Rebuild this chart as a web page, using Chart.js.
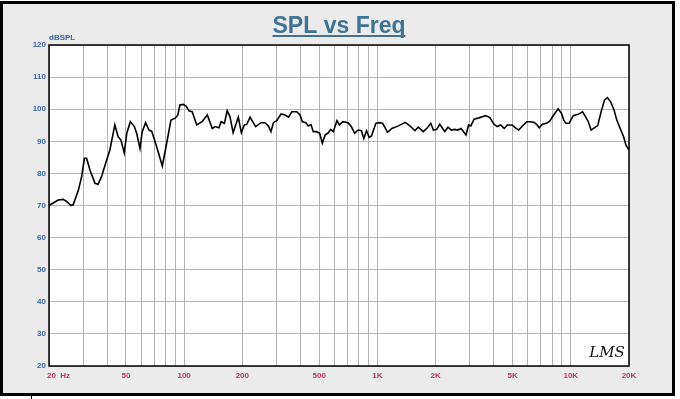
<!DOCTYPE html>
<html>
<head>
<meta charset="utf-8">
<script src="https://cdn.jsdelivr.net/npm/chart.js@4"></script>
<style>
  html, body { margin: 0; padding: 0; background: #fff; }
  #wrap { width: 680px; height: 399px; }
</style>
</head>
<body>
<div id="wrap"><canvas id="spl-chart" width="680" height="399"></canvas></div>
<script>
const freqs = [20, 22.3, 23.7, 24.7, 26, 26.7, 28.4, 29.5, 30.5, 31.3, 32.6, 34.6, 35.9, 37.5, 39, 41.3, 43.8, 45.6, 47.1, 49,
  50.5, 52.7, 55.3, 56.8, 59.1, 60.7, 63.2, 65.8, 68, 72.1, 77.1, 81.2, 85.5, 89.9, 92.8, 95.1, 98.9, 102.6, 105.9, 110,
  116.2, 123.8, 131.8, 139.8, 144.6, 151.4, 155.4, 161.6, 167, 172.6, 179.2, 190.6, 197.7, 204.7, 210.5, 219.4, 234.3, 249.7, 261.9, 272.6,
  281.3, 289.6, 301, 317.3, 333, 346.9, 360.5, 382.6, 397.6, 409, 425.9, 438.8, 452.9, 465.6, 483.4, 502.5, 518.5, 536.6, 553.7, 573.2,
  591, 617, 636, 662, 703, 732, 762, 793, 826, 850, 878, 906, 932, 981, 1021, 1063, 1128, 1186, 1285, 1392,
  1472, 1563, 1626, 1727, 1813, 1887, 1947, 2021, 2101, 2229, 2317, 2409, 2504, 2603, 2707, 2790, 2870, 2960, 3040, 3160,
  3346, 3630, 3815, 4005, 4160, 4325, 4525, 4700, 4975, 5170, 5380, 5650, 5920, 6150, 6440, 6650, 6860, 7130, 7480, 7780,
  8160, 8600, 8950, 9200, 9430, 9800, 10290, 10920, 11500, 11830, 12320, 12730, 13220, 13780, 14350, 14950, 15450, 16080, 16750, 17290,
  18010, 18760, 19290, 20000];

const spl = [70, 71.7, 71.9, 71.2, 70, 70.3, 74.8, 79, 84.7, 84.7, 81, 76.9, 76.6, 79.2, 82.6, 87.3, 95.1, 91.4, 90.4, 86.4,
  92.5, 96.1, 94.6, 92.5, 87.8, 93, 95.8, 93.5, 93.1, 88.3, 82.3, 89.4, 96.6, 97.2, 98.2, 101.3, 101.5, 100.9, 99.5, 99.2,
  95.1, 96.1, 98.2, 94, 94.6, 94.2, 96.1, 95.6, 99.5, 97.7, 92.7, 97.5, 92.7, 95.1, 95.2, 97.5, 94.6, 95.8, 95.8, 94.8,
  93, 95.8, 96.4, 98.5, 98.2, 97.5, 99.2, 99.2, 98.2, 96.1, 95.8, 94.8, 95.2, 93, 93, 92.5, 89.4, 92, 92.5, 93.7,
  93, 96.4, 95.1, 96.1, 95.8, 94.6, 92.5, 93.5, 93.3, 90.9, 93.3, 91.2, 91.7, 95.6, 95.8, 95.6, 92.8, 94, 94.8, 95.9,
  94.8, 93.3, 94.4, 93, 94.2, 95.6, 93.5, 93.7, 95.3, 93, 94.4, 93.5, 93.7, 93.5, 94, 93, 92, 95.1, 94.8, 96.9,
  97.3, 98, 97.4, 95.3, 94.6, 95.1, 94, 95.1, 95.1, 94.2, 93.5, 94.9, 96.1, 96.1, 95.9, 95.3, 94.2, 95.3, 95.6, 96.3,
  98.2, 100.1, 98.7, 96.6, 95.6, 95.6, 98, 98.4, 99.2, 98, 96.1, 93.5, 94.2, 94.9, 99.2, 102.9, 103.6, 102.3, 99.7, 96.6,
  94, 91.4, 88.8, 87.3];

const gridFreqs = [20, 30, 40, 50, 60, 70, 80, 90, 100, 200, 300, 400, 500, 600, 700, 800, 900,
  1000, 2000, 3000, 4000, 5000, 6000, 7000, 8000, 9000, 10000, 20000];
const freqLabels = {20: '20  Hz', 50: '50', 100: '100', 200: '200', 500: '500',
  1000: '1K', 2000: '2K', 5000: '5K', 10000: '10K', 20000: '20K'};

const titleText = 'SPL vs Freq';
const yTitle = 'dBSPL';

const framePlugin = {
  id: 'frame',
  beforeDraw(chart) {
    const ctx = chart.ctx;
    const a = chart.chartArea;
    ctx.save();
    ctx.fillStyle = '#ffffff';
    ctx.fillRect(0, 0, chart.width, chart.height);
    ctx.fillStyle = '#ebebeb';
    ctx.fillRect(2, 3, 671, 391);
    ctx.strokeStyle = '#000';
    ctx.lineWidth = 3;
    ctx.strokeRect(1.5, 2.5, 672, 392);
    // table line below the frame
    ctx.lineWidth = 1;
    ctx.beginPath();
    ctx.moveTo(31.5, 396);
    ctx.lineTo(31.5, 399);
    ctx.stroke();
    ctx.fillStyle = '#ffffff';
    ctx.fillRect(a.left, a.top, a.right - a.left, a.bottom - a.top);
    ctx.restore();
  },
  afterDatasetsDraw(chart) {
    const ctx = chart.ctx;
    const a = chart.chartArea;
    const xs = chart.scales.x;
    ctx.save();
    ctx.strokeStyle = '#000';
    ctx.lineWidth = 1.5;
    ctx.strokeRect(a.left, a.top, a.right - a.left, a.bottom - a.top);

    // x labels
    ctx.font = 'bold 8px Arial, "Liberation Sans"';
    ctx.fillStyle = '#c4306c';
    ctx.textBaseline = 'middle';
    Object.keys(freqLabels).forEach(k => {
      const px = xs.getPixelForValue(Number(k));
      if (Number(k) === 20) {
        ctx.textAlign = 'left';
        ctx.fillText(freqLabels[k], px - 2, a.bottom + 10);
      } else {
        ctx.textAlign = 'center';
        ctx.fillText(freqLabels[k], px, a.bottom + 10);
      }
    });

    // y axis unit
    ctx.fillStyle = '#3a66a8';
    ctx.textAlign = 'left';
    ctx.fillText(yTitle, a.left, a.top - 7);

    // title
    ctx.font = 'bold 23px Arial, "Liberation Sans"';
    ctx.fillStyle = '#3f7393';
    ctx.textAlign = 'center';
    ctx.textBaseline = 'alphabetic';
    const tx = 339;
    ctx.fillText(titleText, tx, 33);
    const w = ctx.measureText(titleText).width;
    ctx.fillRect(tx - w / 2, 35, w, 2);

    // logo
    ctx.font = 'italic 15px "DejaVu Serif"';
    ctx.fillStyle = '#111';
    ctx.fillText('LMS', 607, 357);
    ctx.restore();
  }
};

const ctx = document.querySelector('#spl-chart').getContext('2d');
new Chart(ctx, {
  type: 'line',
  data: {
    datasets: [{
      label: 'SPL',
      data: freqs.map((f, i) => ({x: f, y: spl[i]})),
      borderColor: '#000',
      borderWidth: 1.6,
      pointRadius: 0,
      tension: 0,
      fill: false
    }]
  },
  options: {
    responsive: false,
    animation: false,
    layout: { padding: { top: 45, right: 51, bottom: 0, left: 0 } },
    plugins: { legend: { display: false }, tooltip: { enabled: false } },
    scales: {
      x: {
        type: 'logarithmic',
        min: 20,
        max: 20000,
        afterBuildTicks: s => { s.ticks = gridFreqs.map(v => ({value: v})); },
        afterFit: s => { s.height = 33; },
        ticks: { display: false },
        grid: { color: '#b4b4b4', lineWidth: 1, drawTicks: false },
        border: { display: false }
      },
      y: {
        min: 20,
        max: 120,
        afterFit: s => { s.width = 49; },
        ticks: {
          stepSize: 10,
          padding: 3,
          color: '#3a66a8',
          font: { family: 'Arial, "Liberation Sans"', size: 8, weight: 'bold' }
        },
        grid: { color: '#b4b4b4', lineWidth: 1, drawTicks: false },
        border: { display: false }
      }
    }
  },
  plugins: [framePlugin]
});
</script>
</body>
</html>
